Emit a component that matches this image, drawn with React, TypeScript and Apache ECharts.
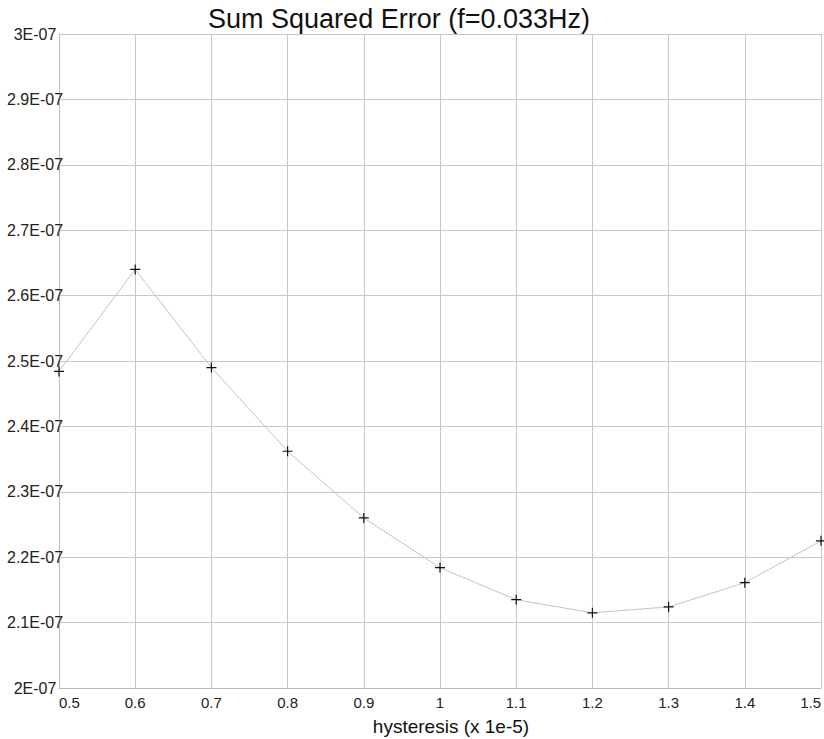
import React, { useEffect, useRef } from "react";
import * as echarts from "echarts";

// hysteresis (x 1e-5)
const hysteresis = [0.5, 0.6, 0.7, 0.8, 0.9, 1.0, 1.1, 1.2, 1.3, 1.4, 1.5];
// sum squared error, in units of 1E-07
const sse = [2.484, 2.640, 2.490, 2.362, 2.260, 2.184, 2.135, 2.115, 2.124, 2.161, 2.225];

const titleText = "Sum Squared Error (f=0.033Hz)";
const xName = "hysteresis (x 1e-5)";

const PLUS = "path://M0,4.4H10V5.6H0Z M4.4,0H5.6V10H4.4Z";

export default function App() {
  const ref = useRef<HTMLDivElement>(null);
  useEffect(() => {
    document.body.style.margin = "0";
    const chart = echarts.init(ref.current!, undefined, { renderer: "svg" });
    const font = "'Liberation Sans', Arial, sans-serif";
    chart.setOption({
      animation: false,
      backgroundColor: "#ffffff",
      textStyle: { fontFamily: font },
      graphic: [
        {
          type: "text",
          x: 399,
          y: 19,
          style: {
            text: titleText,
            fontFamily: font,
            fontSize: 27,
            fill: "#111",
            textAlign: "center",
            textVerticalAlign: "middle",
          },
        },
        {
          type: "text",
          x: 451,
          y: 726,
          style: {
            text: xName,
            fontFamily: font,
            fontSize: 19,
            fill: "#111",
            textAlign: "center",
            textVerticalAlign: "middle",
          },
        },
      ],
      grid: { left: 59, right: 3, top: 34, bottom: 51, containLabel: false },
      xAxis: {
        type: "value",
        min: 0.5,
        max: 1.5,
        interval: 0.1,
        axisLine: { show: true, lineStyle: { color: "#bbb", width: 1 } },
        axisTick: { show: false },
        axisLabel: {
          fontSize: 15,
          color: "#222",
          margin: 7,
          alignMinLabel: "left",
          alignMaxLabel: "right",
          formatter: (v: number) => String(+v.toFixed(1)),
        },
        splitLine: { show: true, lineStyle: { color: "#c8c8c8", width: 1 } },
      },
      yAxis: {
        type: "value",
        min: 2,
        max: 3,
        interval: 0.1,
        axisLine: { show: true, lineStyle: { color: "#bbb", width: 1 } },
        axisTick: { show: false },
        axisLabel: {
          fontSize: 16,
          color: "#222",
          margin: 24,
          align: "center",
          formatter: (v: number) => `${+v.toFixed(1)}E-07`,
        },
        splitLine: { show: true, lineStyle: { color: "#c8c8c8", width: 1 } },
      },
      series: [
        {
          type: "line",
          data: hysteresis.map((x, i) => [x, sse[i]]),
          symbol: PLUS,
          symbolSize: 10,
          showAllSymbol: true,
          clip: false,
          lineStyle: { color: "#c4c4c4", width: 1 },
          itemStyle: { color: "#111" },
        },
      ],
    });
    return () => chart.dispose();
  }, []);
  return <div ref={ref} style={{ width: 824, height: 739 }} />;
}
